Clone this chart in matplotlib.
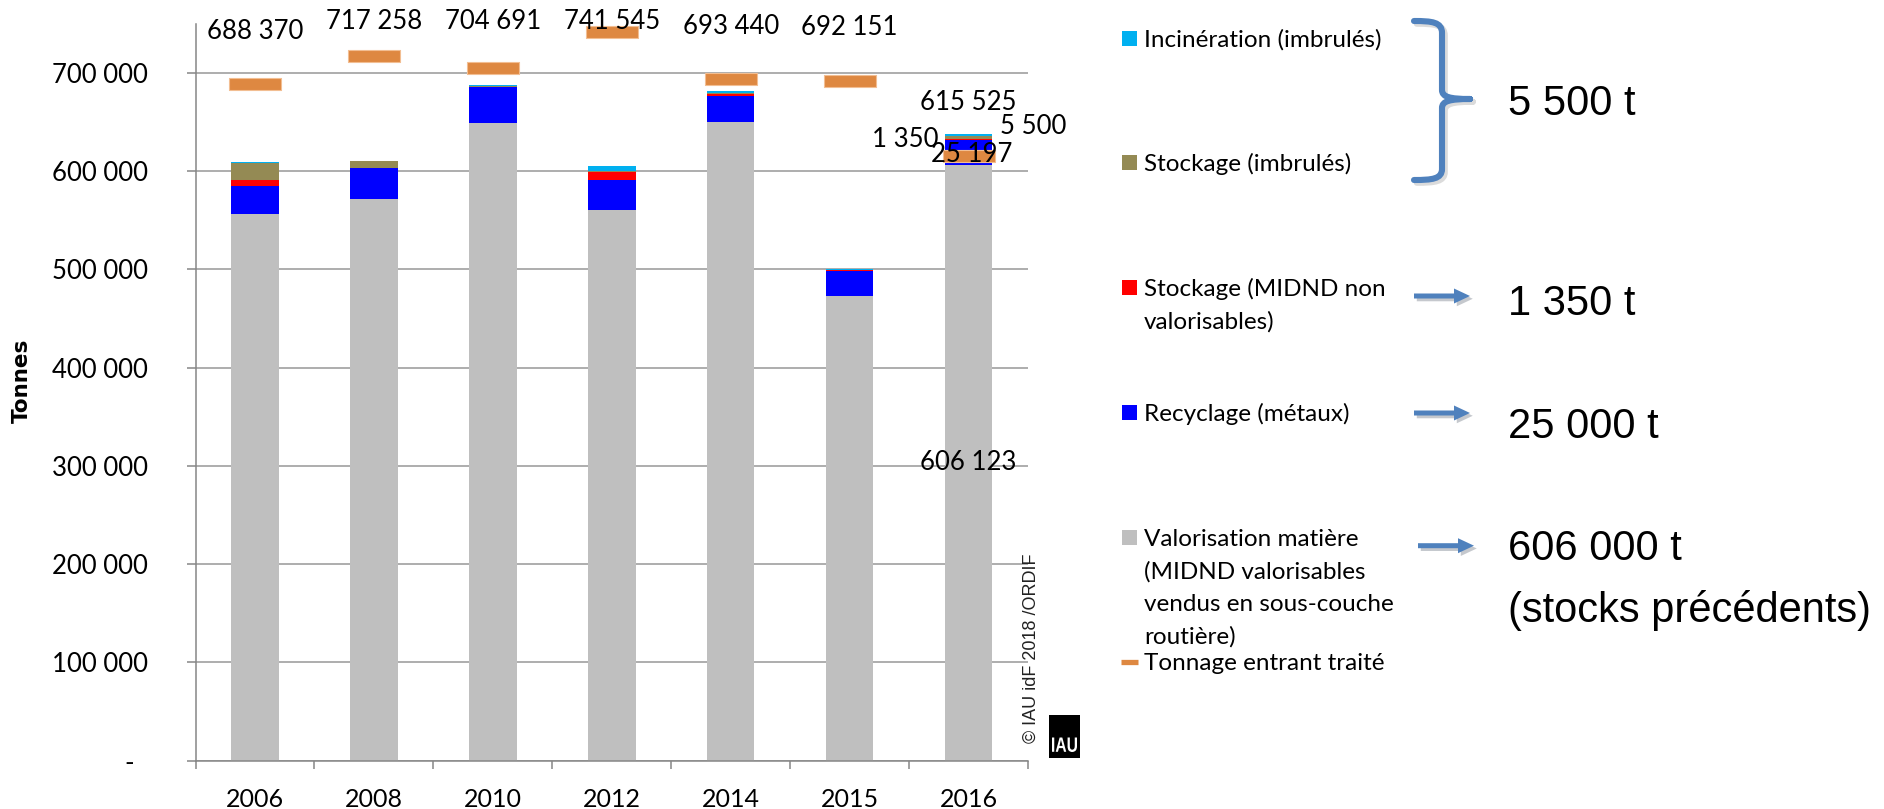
import matplotlib
matplotlib.use('Agg')
import matplotlib.pyplot as plt
import numpy as np
from matplotlib.path import Path
from matplotlib.patches import PathPatch, Rectangle, FancyArrow
from matplotlib.textpath import TextPath
from matplotlib.font_manager import FontProperties
from matplotlib.transforms import Affine2D
import matplotlib.patheffects as pe
from matplotlib import font_manager

# ---------------- data ----------------
years = ['2006', '2008', '2010', '2012', '2014', '2015', '2016']
valorisation = [556000, 572000, 649000, 560500, 650400, 473300, 606123]
recyclage = [29200, 31600, 37000, 30500, 26500, 25400, 25197]
stockage_midnd = [5800, 0, 0, 8500, 1600, 700, 1350]
stockage_imbrules = [17300, 6800, 1200, 1000, 800, 0, 3500]
incineration = [1100, 300, 1000, 4800, 2300, 1500, 2000]
tonnage_entrant = [688370, 717258, 704691, 741545, 693440, 692151, 615525]

yticks = [0, 100000, 200000, 300000, 400000, 500000, 600000, 700000]

legend_labels = [
    ['Incinération (imbrulés)'],
    ['Stockage (imbrulés)'],
    ['Stockage (MIDND non', 'valorisables)'],
    ['Recyclage (métaux)'],
    ['Valorisation matière', '(MIDND valorisables', 'vendus en sous-couche', 'routière)'],
]
tonnage_label = 'Tonnage entrant traité'
big_labels = ['5 500 t', '1 350 t', '25 000 t', '606 000 t', '(stocks précédents)']

# ---------------- style ----------------
available = {f.name for f in font_manager.fontManager.ttflist}
MAIN = 'Lato' if 'Lato' in available else 'DejaVu Sans'
ARIAL = 'Liberation Sans' if 'Liberation Sans' in available else 'DejaVu Sans'

C_GRAY = '#BFBFBF'
C_BLUE = '#0000FF'
C_RED = '#FF0000'
C_OLIVE = '#948A54'
C_LBLUE = '#00B0F0'
C_ORANGE = '#DE8841'
C_ARROW = '#4F81BD'
C_GRID = '#A0A0A0'

def fr(v):
    return f'{int(round(v)):,}'.replace(',', ' ')

W, H = 1884, 809
fig = plt.figure(figsize=(W / 100, H / 100), dpi=100)

left_px, right_px, bottom_px = 195.5, 1028.0, 760.7
ymax = 750000
px_per_val = 98.25 / 100000
top_px = bottom_px - ymax * px_per_val
ax = fig.add_axes([left_px / W, 1 - bottom_px / H, (right_px - left_px) / W,
                   (bottom_px - top_px) / H])

x = np.arange(len(years))
bw = 0.4
series = [valorisation, recyclage, stockage_midnd, stockage_imbrules, incineration]
colors = [C_GRAY, C_BLUE, C_RED, C_OLIVE, C_LBLUE]
bottom = np.zeros(len(years))
for s, c in zip(series, colors):
    ax.bar(x, s, bw, bottom=bottom, color=c, edgecolor='none', zorder=2)
    bottom += np.array(s, dtype=float)

# tonnage entrant markers (flat rectangles)
rect_marker = [(-1, -0.2326), (1, -0.2326), (1, 0.2326), (-1, 0.2326), (-1, -0.2326)]
ax.plot(x, tonnage_entrant, linestyle='none', marker=rect_marker, markersize=37.2,
        markerfacecolor=C_ORANGE, markeredgecolor='#F2BE92', markeredgewidth=0.8,
        zorder=3, clip_on=False)

ax.set_xlim(-0.5, len(years) - 0.5)
ax.set_ylim(0, ymax)
ax.set_yticks(yticks)
ax.set_yticklabels(['-  ' if v == 0 else fr(v) for v in yticks])
ax.set_xticks(x)
ax.set_xticklabels(years)
ax.set_xticks(np.arange(len(years) + 1) - 0.5, minor=True)
ax.tick_params(axis='x', which='major', length=0, pad=19.5, labelsize=18)
ax.tick_params(axis='x', which='minor', length=6, width=1.1, color='#868686', direction='out')
ax.tick_params(axis='y', length=6.5, width=1.1, color='#868686', pad=27.5, labelsize=18.5)
for lab in ax.get_xticklabels() + ax.get_yticklabels():
    lab.set_fontfamily(MAIN)

ax.grid(axis='y', color=C_GRID, linewidth=1.2)
ax.set_axisbelow(True)
for sp in ['top', 'right']:
    ax.spines[sp].set_visible(False)
for sp in ['left', 'bottom']:
    ax.spines[sp].set_color('#868686')
    ax.spines[sp].set_linewidth(1.1)

# data labels for tonnage entrant
label_cap = 752000
for i, v in enumerate(tonnage_entrant):
    ly = min(v + 53 / px_per_val, label_cap)
    ax.text(i, ly, fr(v), ha='center', va='center', fontsize=18.5, family=MAIN,
            clip_on=False, zorder=5)

# data labels of the last bar
i = len(years) - 1
ax.text(i, valorisation[i] / 2, fr(valorisation[i]), ha='center', va='center',
        fontsize=18.5, family=MAIN, zorder=5)
blue_c = valorisation[i] + recyclage[i] / 2
ax.annotate(fr(recyclage[i]), (i, blue_c), xytext=(3, -2), textcoords='offset pixels',
            ha='center', va='center', fontsize=18.5, family=MAIN, zorder=5)
red_c = valorisation[i] + recyclage[i] + stockage_midnd[i] / 2
ax.annotate(fr(stockage_midnd[i]), (i, red_c), xytext=(-63, 0), textcoords='offset pixels',
            ha='center', va='center', fontsize=18.5, family=MAIN, zorder=5)
top_i = bottom[i]
ax.annotate(fr(stockage_imbrules[i] + incineration[i]), (i, top_i), xytext=(65, 7),
            textcoords='offset pixels', ha='center', va='center', fontsize=18.5,
            family=MAIN, zorder=5)

# y label
fig.text(21.7 / W, 1 - 381 / H, 'Tonnes', rotation=90, ha='center', va='center',
         fontsize=15.5, fontweight='bold', family='DejaVu Sans')

# ---------------- overlay in pixel coordinates ----------------
ov = fig.add_axes([0, 0, 1, 1], zorder=10)
ov.set_xlim(0, W)
ov.set_ylim(H, 0)
ov.axis('off')

# legend
sq_x, sq_w = 1122, 15
txt_x = 1144
entry_center = [38.5, 162.5, 287.5, 412.5, 537.5]
line_gap = 32.5
LEG_FS = 17.5
cap_half = 8.5
for labs, yc, c in zip(legend_labels, entry_center, [C_LBLUE, C_OLIVE, C_RED, C_BLUE, C_GRAY]):
    ov.add_patch(Rectangle((sq_x, yc - 7.5), sq_w, 15, facecolor=c, edgecolor='none'))
    for k, t in enumerate(labs):
        ov.text(txt_x, yc + cap_half + k * line_gap, t, ha='left', va='baseline',
                fontsize=LEG_FS, family=MAIN)
ov.plot([1121, 1138], [661.5, 661.5], color=C_ORANGE, linewidth=3.8, solid_capstyle='butt')
ov.text(txt_x, 661.5 + cap_half, tonnage_label, ha='left', va='baseline',
        fontsize=LEG_FS, family=MAIN)

# brace
verts = [(1414, 21), (1432, 21), (1442, 22), (1442, 33),
         (1442, 90),
         (1442, 97), (1450, 99), (1470, 99),
         (1470, 99),
         (1450, 99), (1442, 101), (1442, 108),
         (1442, 169),
         (1442, 179), (1432, 180), (1414, 180)]
codes = [Path.MOVETO, Path.CURVE4, Path.CURVE4, Path.CURVE4,
         Path.LINETO,
         Path.CURVE4, Path.CURVE4, Path.CURVE4,
         Path.MOVETO,
         Path.CURVE4, Path.CURVE4, Path.CURVE4,
         Path.LINETO,
         Path.CURVE4, Path.CURVE4, Path.CURVE4]
shadow = [pe.SimpleLineShadow(offset=(2, -2), shadow_color='#999999', alpha=0.35), pe.Normal()]
brace = PathPatch(Path(verts, codes), facecolor='none', edgecolor=C_ARROW, linewidth=4.4,
                  capstyle='round', joinstyle='round', path_effects=shadow)
ov.add_patch(brace)

# arrows
arrow_specs = [(1414, 296), (1414, 413), (1418, 545.7)]
for ax0, ay in arrow_specs:
    arr = FancyArrow(ax0, ay, 56, 0, width=5, head_width=15, head_length=16,
                     length_includes_head=True, color=C_ARROW, linewidth=0,
                     path_effects=[pe.SimplePatchShadow(offset=(2, -2), alpha=0.25), pe.Normal()])
    ov.add_patch(arr)

# big texts
big_baselines = [115, 315, 438, 560, 621.7]
for t, yb in zip(big_labels, big_baselines):
    ov.text(1508, yb, t, ha='left', va='baseline', fontsize=30, family=ARIAL)

# copyright and logo
ov.text(1031, 743, '© IAU idF 2018 /ORDIF', rotation=90, ha='center', va='bottom',
        fontsize=13, family=ARIAL, color='#222222')
ov.add_patch(Rectangle((1049, 715), 31, 43, facecolor='black', edgecolor='none'))
tp = TextPath((0, 0), 'IAU', size=20, prop=FontProperties(family=ARIAL, weight='bold'))
bb = tp.get_extents()
sx = 25.0 / bb.width
sy = 14.5 / bb.height
tr = Affine2D().translate(-bb.x0 - bb.width / 2, -bb.y0).scale(sx, -sy).translate(1064.5, 752)
ov.add_patch(PathPatch(tr.transform_path(tp), facecolor='white', edgecolor='none'))

fig.savefig('out.png', dpi=100)
